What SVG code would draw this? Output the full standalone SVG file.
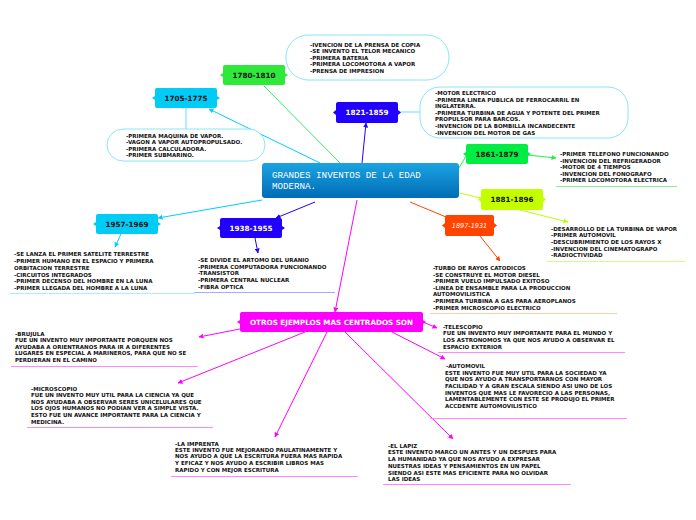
<svg xmlns="http://www.w3.org/2000/svg" width="696" height="520" viewBox="0 0 696 520">
<defs>
<linearGradient id="gc" x1="0" y1="0" x2="0" y2="1"><stop offset="0" stop-color="#1ba3e2"/><stop offset="1" stop-color="#006cb5"/></linearGradient>
<marker id="am" viewBox="0 0 10 10" refX="9" refY="5" markerWidth="5" markerHeight="5" orient="auto"><path d="M0,0 L10,5 L0,10 z" fill="#ff00ff"/></marker>
<marker id="ac" viewBox="0 0 10 10" refX="9" refY="5" markerWidth="5" markerHeight="5" orient="auto"><path d="M0,0 L10,5 L0,10 z" fill="#00ccff"/></marker>
<marker id="ab" viewBox="0 0 10 10" refX="9" refY="5" markerWidth="5" markerHeight="5" orient="auto"><path d="M0,0 L10,5 L0,10 z" fill="#2200ff"/></marker>
<marker id="ag" viewBox="0 0 10 10" refX="9" refY="5" markerWidth="5" markerHeight="5" orient="auto"><path d="M0,0 L10,5 L0,10 z" fill="#22ee44"/></marker>
<marker id="ay" viewBox="0 0 10 10" refX="9" refY="5" markerWidth="5" markerHeight="5" orient="auto"><path d="M0,0 L10,5 L0,10 z" fill="#bbff00"/></marker>
<marker id="ao" viewBox="0 0 10 10" refX="9" refY="5" markerWidth="5" markerHeight="5" orient="auto"><path d="M0,0 L10,5 L0,10 z" fill="#ff4400"/></marker>
</defs>
<style>
.t{font-family:"DejaVu Sans",Verdana,sans-serif;font-weight:bold;font-size:5.5px;fill:#111}
.n{font-family:"DejaVu Sans",Verdana,sans-serif;font-weight:bold;font-size:7.2px;text-anchor:middle}
.pill{fill:#fff;stroke:#88e6fa;stroke-width:1}
.ln{fill:none;stroke-width:1}
</style>
<rect width="696" height="520" fill="#fff"/>

<g id="connectors">
<line class="ln" x1="340" y1="163" x2="264" y2="86" stroke="#33ee55"/>
<line class="ln" x1="320" y1="163" x2="209" y2="109" stroke="#00ccff" marker-end="url(#ac)"/>
<line class="ln" x1="186" y1="108" x2="186" y2="130" stroke="#66ddff"/>
<line class="ln" x1="362" y1="163" x2="366" y2="123" stroke="#2200ff" marker-end="url(#ab)"/>
<line class="ln" x1="398" y1="112" x2="420" y2="112" stroke="#66ddff"/>
<line class="ln" x1="459" y1="168" x2="466" y2="156" stroke="#22ee44"/>
<line class="ln" x1="528" y1="155" x2="556" y2="158" stroke="#22ee44" marker-end="url(#ag)"/>
<line class="ln" x1="459" y1="193" x2="481" y2="198" stroke="#bbff00"/>
<line class="ln" x1="520" y1="210" x2="568" y2="222" stroke="#bbff00" marker-end="url(#ay)"/>
<line class="ln" x1="410" y1="202" x2="446" y2="217" stroke="#ff4400"/>
<line class="ln" x1="480" y1="236" x2="500" y2="261" stroke="#ff4400" marker-end="url(#ao)"/>
<line class="ln" x1="262" y1="200" x2="158" y2="218" stroke="#00ccff" marker-end="url(#ac)"/>
<line class="ln" x1="121" y1="234" x2="115" y2="247" stroke="#00ccff" marker-end="url(#ac)"/>
<line class="ln" x1="315" y1="202" x2="276" y2="218" stroke="#2200ff" marker-end="url(#ab)"/>
<line class="ln" x1="255" y1="238" x2="258" y2="253" stroke="#2200ff" marker-end="url(#ab)"/>
<line class="ln" x1="357" y1="200" x2="335" y2="312" stroke="#ff00ff" marker-end="url(#am)"/>
<line class="ln" x1="245" y1="328" x2="199" y2="337" stroke="#ff00ff" marker-end="url(#am)"/>
<line class="ln" x1="423" y1="322" x2="437" y2="328" stroke="#ff00ff" marker-end="url(#am)"/>
<line class="ln" x1="392" y1="332" x2="445" y2="359" stroke="#ff00ff" marker-end="url(#am)"/>
<line class="ln" x1="305" y1="332" x2="178" y2="383" stroke="#ff00ff" marker-end="url(#am)"/>
<line class="ln" x1="327" y1="332" x2="275" y2="437" stroke="#ff00ff" marker-end="url(#am)"/>
<line class="ln" x1="345" y1="332" x2="453" y2="439" stroke="#ff00ff" marker-end="url(#am)"/>
</g>

<g id="center">
<rect x="262" y="163" width="197" height="35" rx="3" fill="url(#gc)"/>
<text x="272" y="178" font-family="'Liberation Mono','DejaVu Sans Mono',monospace" font-size="9.2" fill="#fff">GRANDES INVENTOS DE LA EDAD</text>
<text x="272" y="189" font-family="'Liberation Mono','DejaVu Sans Mono',monospace" font-size="9.2" fill="#fff">MODERNA.</text>
</g>

<g id="n1780">
<rect x="223" y="65" width="62" height="20" rx="2" fill="#2ee83a"/>
<path d="M223,73 L220,75 L223,77 Z M285,73 L288,75 L285,77 Z" fill="#2ee83a"/>
<text class="n" x="254" y="78" fill="#111">1780-1810</text>
</g>
<g id="t1780">
<rect class="pill" x="286" y="35" width="163" height="45" rx="22"/>
<text class="t"><tspan x="310" y="46.5">-IVENCION DE LA PRENSA DE COPIA</tspan><tspan x="310" y="53">-SE INVENTO EL TELOR MECANICO</tspan><tspan x="310" y="59.5">-PRIMERA BATERIA</tspan><tspan x="310" y="66">-PRIMERA LOCOMOTORA A VAPOR</tspan><tspan x="310" y="72.5">-PRENSA DE IMPRESION</tspan></text>
</g>

<g id="n1705">
<rect x="155" y="88" width="62" height="20" rx="2" fill="#00ccf5"/>
<path d="M155,96 L152,98 L155,100 Z M217,96 L220,98 L217,100 Z" fill="#00ccf5"/>
<text class="n" x="186" y="101" fill="#111">1705-1775</text>
</g>
<g id="t1705">
<rect class="pill" x="107" y="129" width="158" height="32" rx="16"/>
<text class="t"><tspan x="126" y="138">-PRIMERA MAQUINA DE VAPOR.</tspan><tspan x="126" y="144">-VAGON A VAPOR AUTOPROPULSADO.</tspan><tspan x="126" y="151">-PRIMERA CALCULADORA.</tspan><tspan x="126" y="157">-PRIMER SUBMARINO.</tspan></text>
</g>

<g id="n1821">
<rect x="336" y="102" width="62" height="21" rx="2" fill="#2200ff"/>
<path d="M336,110 L333,112.5 L336,115 Z M398,110 L401,112.5 L398,115 Z" fill="#2200ff"/>
<text class="n" x="367" y="115" fill="#fff">1821-1859</text>
</g>
<g id="t1821">
<rect class="pill" x="420" y="87" width="208" height="51" rx="20"/>
<text class="t"><tspan x="435" y="94.5">-MOTOR ELECTRICO</tspan><tspan x="435" y="101.5">-PRIMERA LINEA PUBLICA DE FERROCARRIL EN</tspan><tspan x="435" y="107.5">INGLATERRA.</tspan><tspan x="435" y="115">-PRIMERA TURBINA DE AGUA Y POTENTE DEL PRIMER</tspan><tspan x="435" y="121">PROPULSOR PARA BARCOS.</tspan><tspan x="435" y="128">-INVENCION DE LA BOMBILLA INCANDECENTE</tspan><tspan x="435" y="135">-INVENCION DEL MOTOR DE GAS</tspan></text>
</g>

<g id="n1861">
<rect x="466" y="144" width="62" height="20" rx="2" fill="#00ee44"/>
<path d="M466,152 L463,154 L466,156 Z M528,152 L531,154 L528,156 Z" fill="#00ee44"/>
<text class="n" x="497" y="157" fill="#111">1861-1879</text>
</g>
<g id="t1861">
<text class="t"><tspan x="560" y="156">-PRIMER TELEFONO FUNCIONANDO</tspan><tspan x="560" y="162.5">-INVENCION DEL REFRIGERADOR</tspan><tspan x="560" y="169">-MOTOR DE 4 TIEMPOS</tspan><tspan x="560" y="175.5">-INVENCION DEL FONOGRAFO</tspan><tspan x="560" y="182">-PRIMER LOCOMOTORA ELECTRICA</tspan></text>
<line x1="556" y1="186.5" x2="677" y2="186.5" stroke="#88ee99" stroke-width="1"/>
</g>

<g id="n1881">
<rect x="481" y="189" width="62" height="21" rx="2" fill="#c4ff00"/>
<path d="M481,197 L478,199.5 L481,202 Z M543,197 L546,199.5 L543,202 Z" fill="#c4ff00"/>
<text class="n" x="512" y="202" fill="#111">1881-1896</text>
</g>
<g id="t1881">
<text class="t"><tspan x="551" y="230.5">-DESARROLLO DE LA TURBINA DE VAPOR</tspan><tspan x="551" y="237">-PRIMER AUTOMOVIL</tspan><tspan x="551" y="243.5">-DESCUBRIMIENTO DE LOS RAYOS X</tspan><tspan x="551" y="250.5">-INVENCION DEL CINEMATOGRAPO</tspan><tspan x="551" y="257">-RADIOCTIVIDAD</tspan></text>
<line x1="547" y1="261.5" x2="685" y2="261.5" stroke="#ccff88" stroke-width="1"/>
</g>

<g id="n1897">
<rect x="445" y="215" width="49" height="21" rx="2" fill="#ff4400"/>
<path d="M445,223 L442,225.5 L445,228 Z M494,223 L497,225.5 L494,228 Z" fill="#ff4400"/>
<text x="469.5" y="228" font-family="'DejaVu Sans',Verdana,sans-serif" font-style="italic" font-size="6.5" fill="#fff" text-anchor="middle">1897-1931</text>
</g>
<g id="t1897">
<text class="t"><tspan x="433" y="269.5">-TURBO DE RAYOS CATODICOS</tspan><tspan x="433" y="276.5">-SE CONSTRUYE EL MOTOR DIESEL</tspan><tspan x="433" y="282.5">-PRIMER VUELO IMPULSADO EXITOSO</tspan><tspan x="433" y="289.5">-LINEA DE ENSAMBLE PARA LA PRODUCCION</tspan><tspan x="433" y="296">AUTOMOVILISTICA</tspan><tspan x="433" y="303">-PRIMERA TURBINA A GAS PARA AEROPLANOS</tspan><tspan x="433" y="309.5">-PRIMER MICROSCOPIO ELECTRICO</tspan></text>
<line x1="430" y1="313.5" x2="617" y2="313.5" stroke="#ffccaa" stroke-width="1"/>
</g>

<g id="n1957">
<rect x="96" y="214" width="62" height="20" rx="2" fill="#00ccf5"/>
<path d="M96,222 L93,224 L96,226 Z M158,222 L161,224 L158,226 Z" fill="#00ccf5"/>
<text class="n" x="127" y="227" fill="#111">1957-1969</text>
</g>
<g id="t1957">
<text class="t"><tspan x="14" y="256">-SE LANZA EL PRIMER SATELITE TERRESTRE</tspan><tspan x="14" y="263">-PRIMER HUMANO EN EL ESPACIO Y PRIMERA</tspan><tspan x="14" y="269.5">ORBITACION TERRESTRE</tspan><tspan x="14" y="276.5">-CIRCUITOS INTEGRADOS</tspan><tspan x="14" y="283">-PRIMER DECENSO DEL HOMBRE EN LA LUNA</tspan><tspan x="14" y="290">-PRIMER LLEGADA DEL HOMBRE A LA LUNA</tspan></text>
<line x1="10" y1="293.5" x2="195" y2="293.5" stroke="#aaeeff" stroke-width="1"/>
</g>

<g id="n1938">
<rect x="220" y="218" width="62" height="20" rx="2" fill="#2200ff"/>
<path d="M220,226 L217,228 L220,230 Z M282,226 L285,228 L282,230 Z" fill="#2200ff"/>
<text class="n" x="251" y="231" fill="#fff">1938-1955</text>
</g>
<g id="t1938">
<text class="t"><tspan x="198" y="262">-SE DIVIDE EL ARTOMO DEL URANIO</tspan><tspan x="198" y="268.5">-PRIMERA COMPUTADORA FUNCIONANDO</tspan><tspan x="198" y="275">-TRANSISTOR</tspan><tspan x="198" y="282">-PRIMERA CENTRAL NUCLEAR</tspan><tspan x="198" y="288.5">-FIBRA OPTICA</tspan></text>
<line x1="194" y1="292.5" x2="335" y2="292.5" stroke="#aaaaff" stroke-width="1"/>
</g>

<g id="otros">
<rect x="240" y="312" width="183" height="20" rx="2" fill="#ff00ff"/>
<path d="M240,320 L237,322 L240,324 Z M423,320 L426,322 L423,324 Z" fill="#ff00ff"/>
<text class="n" x="331.5" y="325" fill="#fff" font-size="6.8">OTROS EJEMPLOS MAS CENTRADOS SON</text>
</g>

<g id="brujula">
<text class="t"><tspan x="15" y="336">-BRUJULA</tspan><tspan x="15" y="342">FUE UN INVENTO MUY IMPORTANTE PORQUEN NOS</tspan><tspan x="15" y="348.5">AYUDABA A ORIENTRANOS PARA IR A DIFERENTES</tspan><tspan x="15" y="355">LUGARES EN ESPECIAL A MARINEROS, PARA QUE NO SE</tspan><tspan x="15" y="362">PERDIERAN EN EL CAMINO</tspan></text>
<line x1="11" y1="366.5" x2="198" y2="366.5" stroke="#ff88ff" stroke-width="1"/>
</g>
<g id="telescopio">
<text class="t"><tspan x="443" y="328.5">-TELESCOPIO</tspan><tspan x="443" y="335">FUE UN INVENTO MUY IMPORTANTE PARA EL MUNDO Y</tspan><tspan x="443" y="342">LOS ASTRONOMOS YA QUE NOS AYUDO A OBSERVAR EL</tspan><tspan x="443" y="348.5">ESPACIO EXTERIOR</tspan></text>
<line x1="438" y1="352.5" x2="625" y2="352.5" stroke="#ff88ff" stroke-width="1"/>
</g>
<g id="automovil">
<text class="t"><tspan x="446" y="367.5">-AUTOMOVIL</tspan><tspan x="445" y="374.5">ESTE INVENTO FUE MUY UTIL PARA LA SOCIEDAD YA</tspan><tspan x="445" y="381">QUE NOS AYUDO A TRANSPORTARNOS CON MAYOR</tspan><tspan x="445" y="388">FACILIDAD Y A GRAN ESCALA SIENDO ASI UNO DE LOS</tspan><tspan x="445" y="394.5">INVENTOS QUE MAS LE FAVORECIO A LAS PERSONAS,</tspan><tspan x="445" y="401">LAMENTABLEMENTE CON ESTE SE PRODUJO EL PRIMER</tspan><tspan x="445" y="408">ACCDENTE AUTOMOVILISTICO</tspan></text>
<line x1="430" y1="418.5" x2="627" y2="418.5" stroke="#ff88ff" stroke-width="1"/>
</g>
<g id="microscopio">
<text class="t"><tspan x="31" y="391">-MICROSCOPIO</tspan><tspan x="31" y="397">FUE UN INVENTO MUY UTIL PARA LA CIENCIA YA QUE</tspan><tspan x="31" y="403.5">NOS AYUDABA A OBSERVAR SERES UNICELULARES QUE</tspan><tspan x="31" y="410">LOS OJOS HUMANOS NO PODIAN VER A SIMPLE VISTA.</tspan><tspan x="31" y="417">ESTO FUE UN AVANCE IMPORTANTE PARA LA CIENCIA Y</tspan><tspan x="31" y="423.5">MEDICINA.</tspan></text>
<line x1="27" y1="427.5" x2="213" y2="427.5" stroke="#ff88ff" stroke-width="1"/>
</g>
<g id="imprenta">
<text class="t"><tspan x="175" y="446">-LA IMPRENTA</tspan><tspan x="175" y="452">ESTE INVENTO FUE MEJORANDO PAULATINAMENTE Y</tspan><tspan x="175" y="458">NOS AYUDO A QUE LA ESCRITURA FUERA MAS RAPIDA</tspan><tspan x="175" y="465">Y EFICAZ Y NOS AYUDO A ESCRIBIR LIBROS MAS</tspan><tspan x="175" y="472">RAPIDO Y CON MEJOR ESCRITURA</tspan></text>
<line x1="171" y1="476.5" x2="358" y2="476.5" stroke="#ff88ff" stroke-width="1"/>
</g>
<g id="lapiz">
<text class="t"><tspan x="388" y="447.5">-EL LAPIZ</tspan><tspan x="388" y="454">ESTE INVENTO MARCO UN ANTES Y UN DESPUES PARA</tspan><tspan x="388" y="460.5">LA HUMANIDAD YA QUE NOS AYUDO A EXPRESAR</tspan><tspan x="388" y="467.5">NUESTRAS IDEAS Y PENSAMIENTOS EN UN PAPEL</tspan><tspan x="388" y="474.5">SIENDO ASI ESTE MAS EFICIENTE PARA NO OLVIDAR</tspan><tspan x="388" y="481">LAS IDEAS</tspan></text>
<line x1="383" y1="484.5" x2="571" y2="484.5" stroke="#ff88ff" stroke-width="1"/>
</g>
</svg>
